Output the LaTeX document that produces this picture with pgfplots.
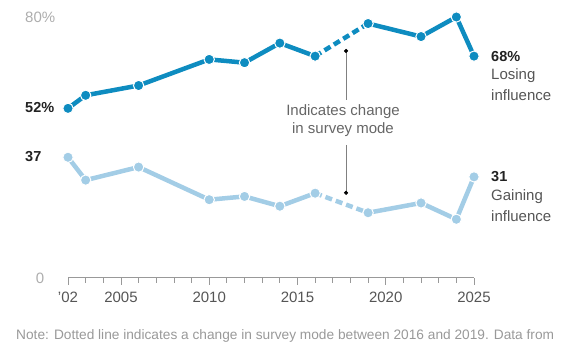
\documentclass[border=0pt]{standalone}
\usepackage{fontspec}
\setmainfont{Liberation Sans}
\usepackage{pgfplots}
\pgfplotsset{compat=1.18}
\definecolor{darkb}{HTML}{0E8CC0}
\definecolor{lightb}{HTML}{A3CDE6}
\definecolor{axgray}{HTML}{999999}
\definecolor{txtgray}{HTML}{555555}
\definecolor{lbl}{HTML}{222222}
\begin{document}
\begin{tikzpicture}
\begin{axis}[
  at={(0pt,0pt)}, anchor=origin,
  width=406pt, height=261pt, scale only axis,
  xmin=2002, xmax=2025, ymin=0, ymax=80,
  clip=false,
  axis y line=none,
  axis x line*=bottom,
  axis line style={-, axgray, line width=1pt},
  xtick={2002,2005,2010,2015,2020,2025},
  xticklabels={'02,2005,2010,2015,2020,2025},
  minor xtick={2003,2004,2006,2007,2008,2009,2011,2012,2013,2014,2016,2017,2018,2019,2021,2022,2023,2024},
  tick align=outside,
  major tick length=7pt, minor tick length=5pt,
  every tick/.style={axgray, line width=0.8pt},
  xticklabel style={font=\fontsize{15}{17}\selectfont, text=txtgray, yshift=-3pt},
]
% Gaining influence (light)
\addplot[lightb, line width=4.5pt, line join=round] coordinates {(2002,37) (2003,30) (2006,34) (2010,24) (2012,25) (2014,22) (2016,26)};
\addplot[lightb, line width=4.5pt, dash pattern=on 7pt off 4pt] coordinates {(2016,26) (2019,20)};
\addplot[lightb, line width=4.5pt, line join=round] coordinates {(2019,20) (2022,23) (2024,18) (2025,31)};
\addplot[only marks, mark=*, mark size=5.2pt, mark options={fill=lightb, draw=white, line width=1pt}] coordinates {(2002,37) (2003,30) (2006,34) (2010,24) (2012,25) (2014,22) (2016,26) (2019,20) (2022,23) (2024,18) (2025,31)};
% Losing influence (dark)
\addplot[darkb, line width=4.5pt, line join=round] coordinates {(2002,52) (2003,56) (2006,59) (2010,67) (2012,66) (2014,72) (2016,68)};
\addplot[darkb, line width=4.5pt, dash pattern=on 7pt off 4pt] coordinates {(2016,68) (2019,78)};
\addplot[darkb, line width=4.5pt, line join=round] coordinates {(2019,78) (2022,74) (2024,80) (2025,68)};
\addplot[only marks, mark=*, mark size=5.2pt, mark options={fill=darkb, draw=white, line width=1pt}] coordinates {(2002,52) (2003,56) (2006,59) (2010,67) (2012,66) (2014,72) (2016,68) (2019,78) (2022,74) (2024,80) (2025,68)};
% annotation
\addplot[gray, line width=0.8pt, mark=*, mark indices={1}, mark size=1.6pt, mark options={fill=black, draw=black}] coordinates {(2017.75,69.6) (2017.75,54.6)};
\addplot[gray, line width=0.8pt, mark=*, mark indices={2}, mark size=1.6pt, mark options={fill=black, draw=black}] coordinates {(2017.75,40.8) (2017.75,26.1)};
\end{axis}
\begin{scope}[every node/.style={inner sep=0pt, font=\fontsize{15}{17}\selectfont}]
\node[anchor=west, text=axgray!80] at (-43pt,261pt) {80\%};
\node[text=axgray!80] at (-28pt,0pt) {0};
\node[anchor=west, text=lbl, font=\fontsize{14.5}{16}\selectfont\bfseries] at (-43pt,170pt) {52\%};
\node[anchor=west, text=lbl, font=\fontsize{14.5}{16}\selectfont\bfseries] at (-43pt,121pt) {37};
\node[anchor=west, text=lbl, font=\fontsize{14.5}{16}\selectfont\bfseries] at (423pt,221pt) {68\%};
\node[anchor=west, text=txtgray] at (423pt,202pt) {Losing};
\node[anchor=west, text=txtgray] at (423pt,183pt) {influence};
\node[anchor=west, text=lbl, font=\fontsize{14.5}{16}\selectfont\bfseries] at (423pt,101pt) {31};
\node[anchor=west, text=txtgray] at (423pt,81pt) {Gaining};
\node[anchor=west, text=txtgray] at (423pt,62pt) {influence};
\node[text=txtgray!90] at (275pt,166pt) {Indicates change};
\node[text=txtgray!90] at (275pt,148pt) {in survey mode};
\node[anchor=west, text=axgray, font=\fontsize{13.7}{15}\selectfont] at (-52pt,-58pt) {Note: Dotted line indicates a change in survey mode between 2016 and 2019. Data from};
\end{scope}
\pgfresetboundingbox
\path (-68pt,-72pt) rectangle (502pt,278pt);
\end{tikzpicture}
\end{document}
